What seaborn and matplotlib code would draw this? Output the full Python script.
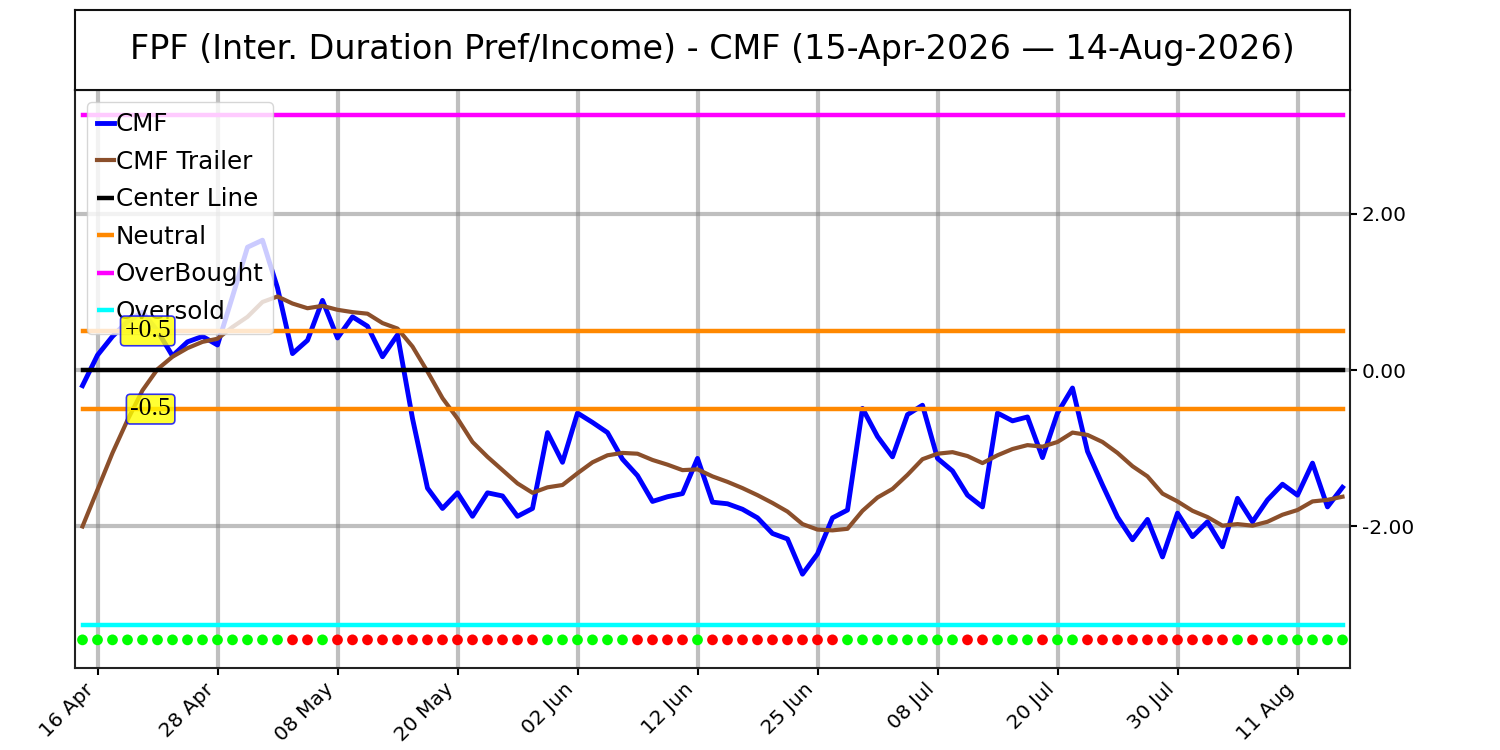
import numpy as np
import pandas as pd
import matplotlib
matplotlib.use("Agg")
import matplotlib.pyplot as plt
import seaborn as sns

# --- chart data ---
TITLE = "FPF (Inter. Duration Pref/Income) - CMF (15-Apr-2026 \u2014 14-Aug-2026)"
START, END = "2026-04-15", "2026-08-14"
HOLIDAYS = ["2026-05-25", "2026-06-19", "2026-07-03"]

cmf = [-0.20, 0.19, 0.43, 0.62, 0.74, 0.50, 0.18, 0.36, 0.43, 0.32,
       0.94, 1.57, 1.66, 1.05, 0.21, 0.38, 0.89, 0.41, 0.68, 0.56,
       0.17, 0.45, -0.62, -1.51, -1.77, -1.57, -1.87, -1.57, -1.61, -1.87,
       -1.77, -0.80, -1.18, -0.55, -0.67, -0.80, -1.14, -1.35, -1.68, -1.62,
       -1.58, -1.13, -1.69, -1.71, -1.78, -1.89, -2.09, -2.16, -2.61, -2.35,
       -1.89, -1.79, -0.49, -0.85, -1.11, -0.57, -0.45, -1.13, -1.29, -1.60,
       -1.75, -0.55, -0.65, -0.60, -1.12, -0.55, -0.23, -1.04, -1.47, -1.88,
       -2.17, -1.91, -2.39, -1.83, -2.13, -1.94, -2.26, -1.64, -1.94, -1.66,
       -1.46, -1.60, -1.19, -1.75, -1.50]

cmf_trailer = [-2.00, -1.53, -1.06, -0.64, -0.26, 0.01, 0.17, 0.28, 0.36, 0.40,
               0.55, 0.68, 0.87, 0.94, 0.85, 0.79, 0.82, 0.77, 0.74, 0.72,
               0.60, 0.53, 0.30, -0.02, -0.36, -0.62, -0.92, -1.11, -1.28, -1.45,
               -1.57, -1.50, -1.47, -1.32, -1.18, -1.09, -1.06, -1.07, -1.15, -1.21,
               -1.28, -1.27, -1.36, -1.43, -1.51, -1.60, -1.70, -1.81, -1.97, -2.04,
               -2.05, -2.03, -1.80, -1.63, -1.52, -1.34, -1.14, -1.07, -1.05, -1.10,
               -1.19, -1.09, -1.01, -0.96, -0.98, -0.92, -0.80, -0.83, -0.92, -1.06,
               -1.23, -1.36, -1.58, -1.68, -1.80, -1.88, -1.99, -1.97, -1.99, -1.94,
               -1.85, -1.79, -1.68, -1.66, -1.62]

# G = CMF above trailer, R = below
signal = ['G', 'G', 'G', 'G', 'G', 'G', 'G', 'G', 'G', 'G',
          'G', 'G', 'G', 'G', 'R', 'R', 'G', 'R', 'R', 'R',
          'R', 'R', 'R', 'R', 'R', 'R', 'R', 'R', 'R', 'R',
          'R', 'G', 'G', 'G', 'G', 'G', 'G', 'R', 'R', 'R',
          'R', 'G', 'R', 'R', 'R', 'R', 'R', 'R', 'R', 'R',
          'R', 'G', 'G', 'G', 'G', 'G', 'G', 'G', 'G', 'R',
          'R', 'G', 'G', 'G', 'R', 'G', 'G', 'R', 'R', 'R',
          'R', 'R', 'R', 'R', 'R', 'R', 'R', 'G', 'R', 'G',
          'G', 'G', 'G', 'G', 'G']

CENTER = 0.0
NEUTRAL = 0.5
OVERBOUGHT = 3.26
OVERSOLD = -3.26
DOT_LEVEL = -3.45
Y_LIMITS = (-3.81, 3.58)
Y_TICKS = [-2.0, 0.0, 2.0]
TICK_EVERY = 8

# --- frame ---
dates = pd.bdate_range(START, END, freq="C", holidays=HOLIDAYS)
df = pd.DataFrame({"i": np.arange(len(dates)), "cmf": cmf,
                   "trailer": cmf_trailer, "signal": signal,
                   "dot": DOT_LEVEL})

fig = plt.figure(figsize=(15, 7.5), dpi=100)
ax = fig.add_axes([0.05, 0.1093, 0.85, 0.7707])
tax = fig.add_axes([0.05, 0.88, 0.85, 0.1067])

# title box
tax.set_xticks([])
tax.set_yticks([])
tax.text(0.5, 0.5, TITLE, ha="center", va="center", fontsize=24,
         transform=tax.transAxes)
for sp in tax.spines.values():
    sp.set_linewidth(1.5)
    sp.set_color("#111111")

x0, x1 = df["i"].iloc[0], df["i"].iloc[-1]

sns.lineplot(data=df, x="i", y="cmf", ax=ax, color="blue", lw=3.5, label="CMF")
sns.lineplot(data=df, x="i", y="trailer", ax=ax, color="#8B4F2B", lw=3,
             label="CMF Trailer")
ax.hlines(CENTER, x0, x1, color="black", lw=3.2, capstyle="projecting",
          label="Center Line")
ax.hlines(NEUTRAL, x0, x1, color="#FF8800", lw=3.2, capstyle="projecting",
          label="Neutral")
ax.hlines(-NEUTRAL, x0, x1, color="#FF8800", lw=3.2, capstyle="projecting")
ax.hlines(OVERBOUGHT, x0, x1, color="magenta", lw=3.2, capstyle="projecting",
          label="OverBought")
ax.hlines(OVERSOLD, x0, x1, color="cyan", lw=3.2, capstyle="projecting",
          label="Oversold")

sns.scatterplot(data=df, x="i", y="dot", hue="signal", ax=ax,
                palette={"G": "#00FF00", "R": "#FF0000"}, s=60,
                edgecolor="none", legend=False, zorder=3)

handles, labels = ax.get_legend_handles_labels()
ax.legend(handles, labels, loc="upper left", fontsize=17.7, handlelength=0.7,
          handletextpad=0.05, labelspacing=0.55, framealpha=0.8)

# level tags sit above the legend, as in the reference
for lvl, txt in [(NEUTRAL, "+0.5"), (-NEUTRAL, "-0.5")]:
    ax.text(5.9, lvl, txt, ha="right", va="center", fontsize=18.5,
            family="Liberation Serif", zorder=7,
            bbox=dict(boxstyle="round,pad=0.15", fc="yellow", ec="blue",
                      lw=1.2, alpha=0.8))

# axes
ax.set_xlim(x0 - 0.5, x1 + 0.5)
ax.set_ylim(*Y_LIMITS)
ax.yaxis.tick_right()
ax.set_yticks(Y_TICKS)
ax.set_yticklabels([f"{v:.2f}" for v in Y_TICKS])
tick_idx = df["i"].iloc[1::TICK_EVERY]
ax.set_xticks(tick_idx)
ax.set_xticklabels([dates[k].strftime("%d %b") for k in tick_idx],
                   rotation=45, ha="right")
ax.tick_params(labelsize=14.5, length=5, width=1.5)
ax.set_xlabel("")
ax.set_ylabel("")
ax.grid(True, color="gray", alpha=0.5, lw=3)
for sp in ax.spines.values():
    sp.set_linewidth(1.5)
    sp.set_color("#222222")

fig.savefig("out.png", dpi=100)
